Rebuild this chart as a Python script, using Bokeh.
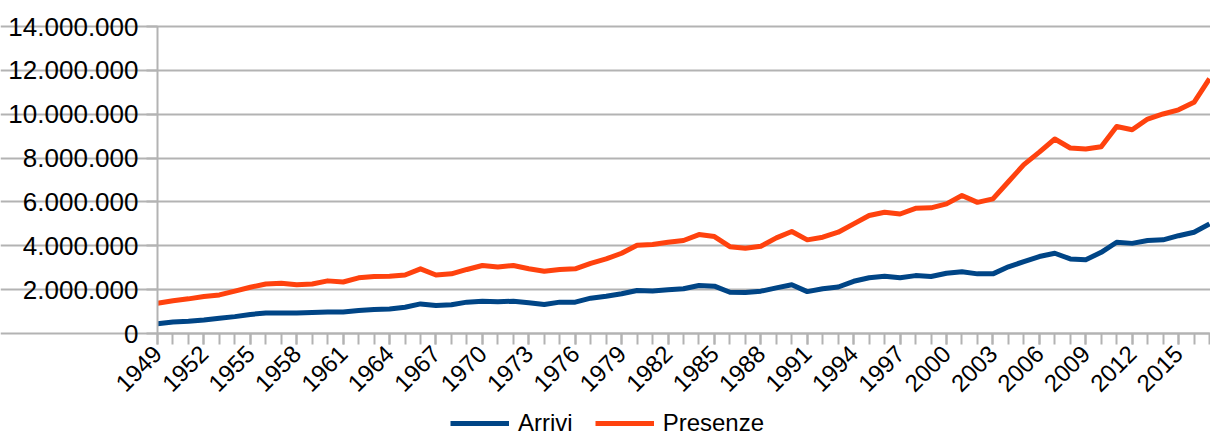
from bokeh.plotting import figure
from bokeh.models import Range1d, FixedTicker, Legend, LegendItem
from bokeh.embed import file_html
from bokeh.resources import INLINE

years = list(range(1949, 2018))
arrivi = [0.44, 0.52, 0.56, 0.62, 0.70, 0.77, 0.87, 0.93, 0.93, 0.93, 0.96, 0.98,
          0.98, 1.05, 1.09, 1.12, 1.20, 1.35, 1.28, 1.31, 1.43, 1.47, 1.45, 1.47,
          1.40, 1.32, 1.43, 1.43, 1.61, 1.70, 1.81, 1.96, 1.94, 1.99, 2.04, 2.19,
          2.16, 1.88, 1.87, 1.93, 2.08, 2.22, 1.91, 2.04, 2.12, 2.38, 2.54, 2.61,
          2.54, 2.64, 2.60, 2.75, 2.82, 2.72, 2.72, 3.04, 3.28, 3.51, 3.66, 3.40,
          3.36, 3.70, 4.16, 4.11, 4.24, 4.27, 4.46, 4.62, 5.00]
presenze = [1.38, 1.49, 1.58, 1.69, 1.76, 1.93, 2.11, 2.26, 2.29, 2.22, 2.26, 2.40,
            2.35, 2.54, 2.60, 2.61, 2.67, 2.95, 2.67, 2.72, 2.92, 3.10, 3.03, 3.10,
            2.95, 2.84, 2.92, 2.95, 3.20, 3.40, 3.66, 4.02, 4.06, 4.16, 4.24, 4.51,
            4.42, 3.96, 3.89, 3.98, 4.36, 4.65, 4.27, 4.39, 4.62, 5.00, 5.38, 5.53,
            5.45, 5.71, 5.73, 5.91, 6.29, 5.98, 6.14, 6.92, 7.70, 8.27, 8.87, 8.46,
            8.41, 8.52, 9.44, 9.29, 9.78, 10.01, 10.20, 10.54, 11.62]
arrivi = [v * 1e6 for v in arrivi]
presenze = [v * 1e6 for v in presenze]
series_names = ["Arrivi", "Presenze"]
colors = ["#004586", "#ff420e"]
y_ticks = [0, 2e6, 4e6, 6e6, 8e6, 10e6, 12e6, 14e6]
x_label_years = list(range(1949, 2016, 3))

FONT = "Liberation Sans"

# Layout (pixels): the value area spans x 157..1209 and y 26..333 of a 1210x437 figure.
W, H = 1210, 437
LEFT, RIGHT, TOP, BOTTOM = 157, 1209, 26, 333
X0, X1 = years[0], years[-1]
Y0, Y1 = 0, 14e6
px_x = (RIGHT - LEFT) / (X1 - X0)
px_y = (BOTTOM - TOP) / (Y1 - Y0)
x_range = Range1d(X0 - LEFT / px_x, X1 + (W - RIGHT) / px_x)
y_range = Range1d(Y0 - (H - BOTTOM) / px_y, Y1 + TOP / px_y)

p = figure(width=W, height=H, output_backend="svg", toolbar_location=None,
           x_range=x_range, y_range=y_range,
           min_border_left=0, min_border_right=0, min_border_top=0,
           min_border_bottom=0)
p.outline_line_color = None
p.background_fill_color = "white"
p.border_fill_color = "white"

r1 = p.line(years, arrivi, line_color=colors[0], line_width=5, line_join="round")
r2 = p.line(years, presenze, line_color=colors[1], line_width=5, line_join="round")

# y axis at the first year
p.yaxis.fixed_location = X0
p.yaxis.ticker = FixedTicker(ticks=y_ticks)
p.yaxis.bounds = (Y0, Y1)
p.yaxis.major_label_overrides = {t: ("0" if t == 0 else f"{int(t):,}".replace(",", ".")) for t in y_ticks}
p.yaxis.major_label_text_font = FONT
p.yaxis.major_label_text_font_size = "26px"
p.yaxis.major_label_text_color = "black"
p.yaxis.axis_line_color = "#b3b3b3"
p.yaxis.axis_line_width = 2
p.yaxis.major_tick_line_color = "#b3b3b3"
p.yaxis.major_tick_line_width = 2
p.yaxis.major_tick_out = 11
p.yaxis.major_tick_in = 0
p.yaxis.minor_tick_line_color = None
p.yaxis.major_label_standoff = 8

# x axis at value 0
p.xaxis.fixed_location = Y0
p.xaxis.bounds = (X0, X1)
p.xaxis.ticker = FixedTicker(ticks=x_label_years, minor_ticks=years)
p.xaxis.major_label_orientation = 0.7854
p.xaxis.major_label_text_font = FONT
p.xaxis.major_label_text_font_size = "24px"
p.xaxis.major_label_text_color = "black"
p.xaxis.axis_line_color = "#b3b3b3"
p.xaxis.axis_line_width = 2
p.xaxis.major_tick_line_color = "#b3b3b3"
p.xaxis.major_tick_line_width = 2
p.xaxis.minor_tick_line_color = "#b3b3b3"
p.xaxis.minor_tick_line_width = 2
p.xaxis.major_tick_out = 11
p.xaxis.major_tick_in = 0
p.xaxis.minor_tick_out = 11
p.xaxis.minor_tick_in = 0
p.xaxis.major_label_standoff = 5

p.xgrid.grid_line_color = None
p.ygrid.grid_line_color = "#b3b3b3"
p.ygrid.grid_line_width = 2
p.ygrid.ticker = FixedTicker(ticks=y_ticks)
p.ygrid.bounds = (X0, X1)

legend = Legend(items=[LegendItem(label=series_names[0], renderers=[r1]),
                       LegendItem(label=series_names[1], renderers=[r2])],
                location=(450, 0), orientation="horizontal",
                label_text_font=FONT, label_text_font_size="24px",
                label_text_color="black", glyph_width=59, glyph_height=24,
                label_height=24, label_standoff=9, spacing=22,
                padding=0, margin=0, border_line_color=None,
                background_fill_alpha=0)
p.add_layout(legend, "center")

open("out.html", "w").write(file_html(p, INLINE))
